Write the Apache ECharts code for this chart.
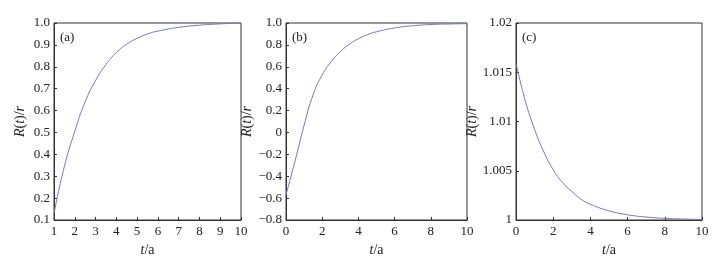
<!DOCTYPE html>
<html>
<head>
<meta charset="utf-8">
<script src="https://cdn.jsdelivr.net/npm/echarts@6/dist/echarts.min.js"></script>
<style>
  html, body { margin: 0; padding: 0; background: #fff; }
  #chart { width: 718px; height: 262px; }
</style>
</head>
<body>
<div id="chart"></div>
<script>
// panel (a)
var tA = [1, 1.5, 2, 2.5, 3, 3.5, 4, 4.5, 5, 5.5, 6, 7, 8, 9, 10];
var rA = [0.13, 0.345, 0.505, 0.64, 0.737, 0.81, 0.865, 0.903, 0.93, 0.95, 0.963, 0.98, 0.99, 0.996, 1.0];
// panel (b)
var tB = [0, 0.5, 1, 1.5, 2, 2.5, 3, 3.5, 4, 4.5, 5, 6, 7, 8, 9, 10];
var rB = [-0.57, -0.26, 0.065, 0.345, 0.525, 0.648, 0.737, 0.806, 0.856, 0.893, 0.92, 0.955, 0.975, 0.986, 0.991, 0.994];
// panel (c)
var tC = [0, 0.5, 1, 1.5, 2, 2.5, 3, 3.5, 4, 5, 6, 7, 8, 9, 10];
var rC = [1.0159, 1.0121, 1.0092, 1.0069, 1.0051, 1.0038, 1.0029, 1.0021, 1.0016, 1.00093, 1.00053, 1.0003, 1.00017, 1.0001, 1.00005];
var panelTags = ['(a)', '(b)', '(c)'];

var myChart = echarts.init(document.getElementById('chart'));

var serif = 'Liberation Serif';
var lineColor = '#7478bd';

function pairs(xs, ys) {
  return xs.map(function (x, i) { return [x, ys[i]]; });
}
function minusSign(s) { return String(s).replace('-', '\u2212'); }

var grids = [
  {left: 54, top: 23, width: 187, height: 201},
  {left: 286, top: 23, width: 181, height: 201},
  {left: 516, top: 23, width: 186, height: 201}
];
var xRanges = [[1, 10, 1], [0, 10, 2], [0, 10, 2]];
var yRanges = [[0.1, 1.0, 0.1], [-0.8, 1.0, 0.2], [1, 1.02, 0.005]];
var yFormats = [
  function (v) { return v.toFixed(1); },
  function (v) { return Math.abs(v) < 1e-9 ? '0' : minusSign(v.toFixed(1)); },
  function (v) { return String(+v.toFixed(3)); }
];
var yGaps = [27, 26, 33];

var rich = {
  i: {fontFamily: serif, fontStyle: 'italic', fontSize: 14, color: '#222'},
  n: {fontFamily: serif, fontSize: 14, color: '#222'}
};

var option = {
  animation: false,
  title: panelTags.map(function (t, i) {
    return {
      text: t,
      left: grids[i].left + 1,
      top: 26,
      textStyle: {fontFamily: serif, fontSize: 13, fontWeight: 'normal', color: '#222'}
    };
  }),
  grid: grids.map(function (g) {
    return Object.assign({show: true, borderColor: '#333', borderWidth: 1, backgroundColor: '#fff'}, g);
  }),
  xAxis: xRanges.map(function (r, i) {
    return {
      type: 'value', gridIndex: i, min: r[0], max: r[1], interval: r[2],
      name: '{i|t}{n|/a}', nameLocation: 'middle', nameGap: 23,
      nameTextStyle: {rich: rich},
      axisLine: {onZero: false, lineStyle: {color: '#333'}},
      axisTick: {inside: true, length: 3, lineStyle: {color: '#333'}},
      axisLabel: {fontFamily: serif, fontSize: 13, color: '#222', margin: 5},
      splitLine: {show: false}
    };
  }),
  yAxis: yRanges.map(function (r, i) {
    return {
      type: 'value', gridIndex: i, min: r[0], max: r[1], interval: r[2],
      name: '{i|R}{n|(}{i|t}{n|)/}{i|r}', nameLocation: 'middle', nameGap: yGaps[i],
      nameRotate: 90,
      nameTextStyle: {rich: rich},
      axisLine: {onZero: false, lineStyle: {color: '#333'}},
      axisTick: {inside: true, length: 3, lineStyle: {color: '#333'}},
      axisLabel: {fontFamily: serif, fontSize: 13, color: '#222', margin: 4, formatter: yFormats[i]},
      splitLine: {show: false}
    };
  }),
  series: [
    {type: 'line', xAxisIndex: 0, yAxisIndex: 0, data: pairs(tA, rA)},
    {type: 'line', xAxisIndex: 1, yAxisIndex: 1, data: pairs(tB, rB)},
    {type: 'line', xAxisIndex: 2, yAxisIndex: 2, data: pairs(tC, rC)}
  ].map(function (s) {
    return Object.assign(s, {
      smooth: true, showSymbol: false,
      lineStyle: {color: lineColor, width: 1}
    });
  })
};
myChart.setOption(option);
</script>
</body>
</html>
